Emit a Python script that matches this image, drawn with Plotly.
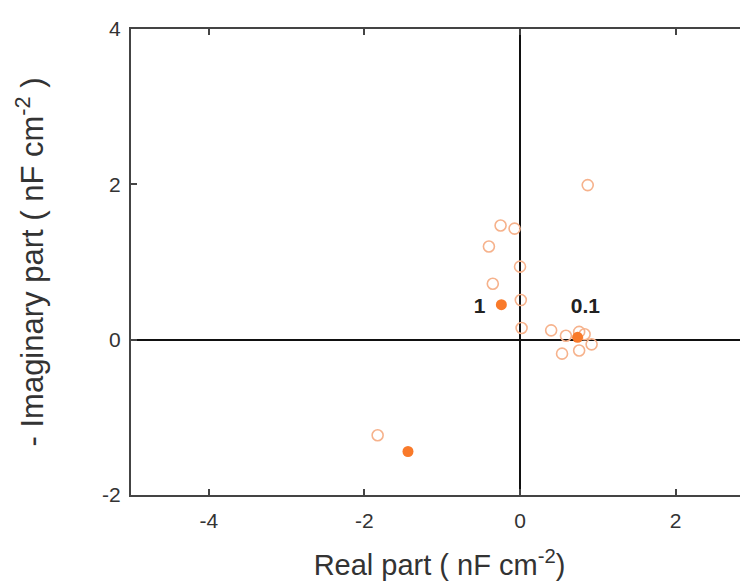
import plotly.graph_objects as go

# open-circle data (real, -imaginary)
open_x = [0.87, -0.25, -0.07, -0.40, 0.00, -0.35, 0.01, 0.02, 0.40, 0.59, 0.76, 0.83, 0.92, 0.76, 0.54, -1.83]
open_y = [1.99, 1.47, 1.43, 1.20, 0.94, 0.72, 0.51, 0.15, 0.12, 0.05, 0.10, 0.07, -0.06, -0.14, -0.18, -1.23]

# filled data points
filled_x = [-0.24, 0.74, -1.44]
filled_y = [0.45, 0.03, -1.44]

# labels
label_text = ["<b>1</b>", "<b>0.1</b>"]
label_x = [-0.52, 0.84]
label_y = [0.41, 0.41]

x_ticks = [-4, -2, 0, 2]
x_ticktext = ["-4", "-2", "0", "2"]
y_ticks = [-2, 0, 2, 4]
y_ticktext = ["-2", "0", "2", "4"]

fig = go.Figure()
fig.add_trace(go.Scatter(
    x=open_x, y=open_y, mode="markers",
    marker=dict(symbol="circle-open", size=11, color="#f6b28c", line=dict(width=1.6)),
    showlegend=False, hoverinfo="skip"))
fig.add_trace(go.Scatter(
    x=filled_x, y=filled_y, mode="markers",
    marker=dict(symbol="circle", size=11, color="#f97a2a"),
    showlegend=False, hoverinfo="skip"))
fig.add_trace(go.Scatter(
    x=label_x, y=label_y, mode="text", text=label_text,
    textfont=dict(family="Liberation Sans, Arial", size=21, color="#222"),
    textposition="middle center",
    showlegend=False, hoverinfo="skip"))

font = dict(family="Liberation Sans, Arial", size=21, color="#333")
title_font = dict(family="Liberation Sans, Arial", size=29, color="#333")
ytitle_font = dict(family="Liberation Sans, Arial", size=31, color="#333")

fig.update_layout(
    width=740, height=573,
    margin=dict(l=123, r=0, t=21, b=86, autoexpand=False),
    paper_bgcolor="white", plot_bgcolor="white",
    font=font,
    xaxis=dict(
        range=[-5, 2.93], tickvals=x_ticks, ticktext=x_ticktext, ticks="inside", ticklen=6, tickwidth=2,
        tickcolor="#444", showline=True, linecolor="#444", linewidth=2, mirror="ticks",
        showgrid=False, zeroline=True, zerolinecolor="#111", zerolinewidth=2,
        tickfont=font, automargin=False, ticklabelstandoff=6,
        title=dict(text="Real part ( nF cm<sup>-2</sup>)", font=title_font, standoff=28),
    ),
    yaxis=dict(
        range=[-2, 4], tickvals=y_ticks, ticktext=y_ticktext, ticks="inside", ticklen=6, tickwidth=2,
        tickcolor="#444", showline=True, linecolor="#444", linewidth=2, mirror=False,
        showgrid=False, zeroline=True, zerolinecolor="#111", zerolinewidth=2,
        tickfont=font, automargin=False, ticklabelstandoff=4,
        title=dict(text="- Imaginary part ( nF cm<sup>-2</sup> )", font=ytitle_font, standoff=49),
    ),
)

fig.write_html("out.html")
